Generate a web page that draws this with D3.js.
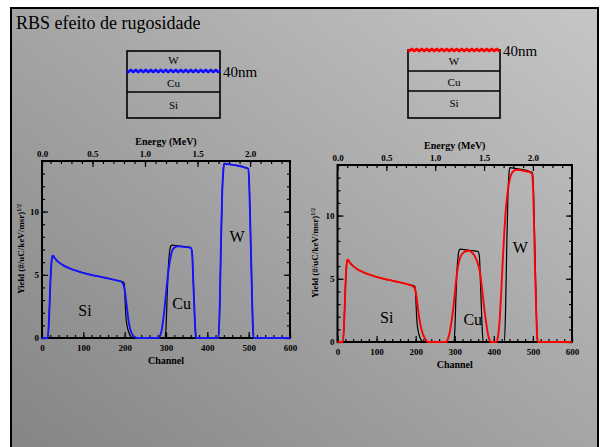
<!DOCTYPE html>
<html>
<head>
<meta charset="utf-8">
<script src="https://cdn.jsdelivr.net/npm/d3@7"></script>
<style>
  html, body { margin: 0; padding: 0; background: #ffffff; }
  svg { display: block; }
</style>
</head>
<body>
<script>
// RBS spectra: yield vs channel, smooth interface (black) vs rough interface (blue / red)
const channelTicks = [0, 100, 200, 300, 400, 500, 600];
const energyTicks = [0.0, 0.5, 1.0, 1.5, 2.0];
const yieldTicks = [0, 5, 10];

// Simulated spectrum with sharp interfaces (shared by both panels)
const smoothYield = [
  [0, 0], [14, 0], [17, 1.5], [20, 4.2], [23, 6.0], [25, 6.5], [27, 6.5], [30, 6.35],
  [40, 6.0], [50, 5.78], [60, 5.6], [75, 5.4], [100, 5.15], [120, 4.98], [140, 4.85],
  [160, 4.72], [180, 4.56], [196, 4.44], [199, 4.3], [201, 3.0], [203, 1.7], [206, 0.95],
  [210, 0.45], [214, 0.15], [218, 0.03], [222, 0],
  [298, 0], [300, 0.8], [303, 3.5], [306, 5.8], [309, 6.9], [312, 7.3], [315, 7.35],
  [330, 7.28], [345, 7.22], [360, 7.15], [363, 6.8], [366, 4.5], [369, 2.0], [371, 0.6], [373, 0],
  [427, 0], [430, 2.5], [433, 7.5], [436, 11.5], [439, 13.4], [441, 13.8], [450, 13.75],
  [470, 13.65], [490, 13.5], [499, 13.38], [502, 11.5], [505, 7.5], [508, 3.5], [510, 1.0],
  [512, 0], [600, 0]
];

// Rough W/Cu interface (40 nm)
const roughInterfaceYield = [
  [0, 0], [14, 0], [17, 1.5], [20, 4.2], [23, 6.0], [25, 6.5], [27, 6.5], [30, 6.35],
  [40, 6.0], [50, 5.78], [60, 5.6], [75, 5.4], [100, 5.15], [120, 4.98], [140, 4.85],
  [160, 4.72], [180, 4.56], [192, 4.45], [196, 4.3], [200, 3.8], [204, 2.8], [208, 1.7],
  [212, 0.9], [216, 0.45], [220, 0.2], [226, 0.05], [232, 0],
  [282, 0], [286, 0.2], [290, 0.7], [295, 1.9], [300, 3.5], [305, 5.1], [310, 6.2],
  [315, 6.9], [320, 7.15], [330, 7.25], [345, 7.2], [360, 7.12], [363, 6.8], [366, 4.5],
  [369, 2.0], [371, 0.6], [373, 0],
  [427, 0], [430, 2.5], [433, 7.5], [436, 11.5], [439, 13.4], [441, 13.8], [450, 13.75],
  [470, 13.65], [490, 13.5], [499, 13.38], [502, 11.5], [505, 7.5], [508, 3.5], [510, 1.0],
  [512, 0], [600, 0]
];

// Rough W surface (40 nm)
const roughSurfaceYield = [
  [0, 0], [14, 0], [17, 1.5], [20, 4.2], [23, 6.0], [25, 6.5], [27, 6.5], [30, 6.35],
  [40, 6.0], [50, 5.78], [60, 5.6], [75, 5.4], [100, 5.15], [120, 4.98], [140, 4.85],
  [160, 4.72], [180, 4.56], [192, 4.42], [197, 4.3], [202, 3.6], [206, 2.6], [210, 1.74],
  [214, 1.1], [219, 0.6], [224, 0.25], [228, 0.08], [232, 0],
  [279, 0], [283, 0.3], [288, 0.9], [292, 1.7], [296, 2.6], [300, 3.8], [304, 5.0],
  [308, 5.9], [313, 6.6], [320, 7.0], [330, 7.2], [337, 7.22], [345, 7.05], [352, 6.75],
  [358, 6.3], [364, 5.6], [368, 4.7], [372, 3.6], [376, 2.5], [381, 1.4], [385, 0.6],
  [389, 0.15], [392, 0],
  [407, 0], [411, 0.5], [415, 1.8], [419, 4.0], [423, 6.5], [427, 8.8], [431, 10.6],
  [436, 12.0], [441, 12.9], [447, 13.4], [455, 13.6], [462, 13.62], [475, 13.55],
  [490, 13.45], [497, 13.35], [500, 12.5], [503, 9.0], [506, 5.0], [509, 1.8], [511, 0.3],
  [513, 0], [600, 0]
];

// Element labels, anchored in data units (channel, yield)
const leftLabels = [
  { text: "Si", ch: 104, y: 2.2 },
  { text: "Cu", ch: 338, y: 2.75 },
  { text: "W", ch: 472, y: 8.05 }
];
const rightLabels = [
  { text: "Si", ch: 126, y: 1.9 },
  { text: "Cu", ch: 346, y: 1.75 },
  { text: "W", ch: 468, y: 7.45 }
];

const W = 600, H = 447;
const svg = d3.select("body").append("svg").attr("width", W).attr("height", H);

// Slide background: diagonal grey gradient inside a black frame
const defs = svg.append("defs");
const grad = defs.append("linearGradient").attr("id", "bg")
  .attr("x1", 0).attr("y1", 1).attr("x2", 1).attr("y2", 0);
grad.append("stop").attr("offset", "0%").attr("stop-color", "#848484");
grad.append("stop").attr("offset", "100%").attr("stop-color", "#c6c6c6");

svg.append("rect").attr("x", 11).attr("y", 8).attr("width", 587).attr("height", 450)
  .attr("fill", "url(#bg)").attr("stroke", "#000").attr("stroke-width", 2);

svg.append("text").attr("x", 16).attr("y", 29)
  .attr("font-family", "Liberation Serif, Times New Roman, serif")
  .attr("font-size", 18).attr("fill", "#000")
  .text("RBS efeito de rugosidade");

// Layer-stack sketches
const serif = "Liberation Serif, Times New Roman, serif";

function wavy(g, x0, x1, y, color) {
  const pts = d3.range(x0, x1 + 0.01, 0.5).map(x => [x, y + 1.1 * Math.sin((x - x0) / 5 * 2 * Math.PI)]);
  g.append("path").attr("d", d3.line()(pts)).attr("fill", "none")
    .attr("stroke", color).attr("stroke-width", 2.6);
}

function stack(cfg) {
  const g = svg.append("g");
  g.append("rect").attr("x", cfg.x0).attr("y", cfg.top).attr("width", cfg.x1 - cfg.x0)
    .attr("height", cfg.bottom - cfg.top).attr("fill", "none")
    .attr("stroke", "#000").attr("stroke-width", 1.6);
  cfg.lines.forEach(y => {
    g.append("line").attr("x1", cfg.x0).attr("x2", cfg.x1).attr("y1", y).attr("y2", y)
      .attr("stroke", "#000").attr("stroke-width", 1.6);
  });
  cfg.layers.forEach(l => {
    g.append("text").attr("x", (cfg.x0 + cfg.x1) / 2).attr("y", l.y)
      .attr("text-anchor", "middle").attr("dominant-baseline", "central")
      .attr("font-family", serif).attr("font-size", 11).text(l.name);
  });
  wavy(g, cfg.x0, cfg.x1, cfg.wave, cfg.color);
  g.append("text").attr("x", cfg.x1 + 3).attr("y", cfg.wave + 1)
    .attr("dominant-baseline", "central")
    .attr("font-family", serif).attr("font-size", 15).text("40nm");
}

stack({ x0: 127, x1: 220, top: 51, bottom: 118, lines: [92], wave: 71, color: "#1010ff",
  layers: [{ name: "W", y: 60 }, { name: "Cu", y: 83 }, { name: "Si", y: 105 }] });
stack({ x0: 408, x1: 500, top: 50, bottom: 118, lines: [71, 91], wave: 50, color: "#ff0000",
  layers: [{ name: "W", y: 61 }, { name: "Cu", y: 81.5 }, { name: "Si", y: 102.5 }] });

// Spectrum panels
function panel(cfg) {
  const g = svg.append("g");
  const x = d3.scaleLinear().domain([0, 600]).range([cfg.x0, cfg.x1]);
  const e = d3.scaleLinear().domain(cfg.energyDomain).range([cfg.x0, cfg.x1]).clamp(true);
  const y = d3.scaleLinear().domain([0, 14]).range([cfg.y1, cfg.y0]);
  const bold = sel => sel.selectAll("text").attr("font-family", serif)
    .attr("font-weight", "bold").attr("font-size", 9).attr("fill", "#000");
  const clean = sel => { sel.select(".domain").remove(); sel.selectAll("line").attr("stroke", "#000").attr("stroke-width", 1.2); };

  // minor ticks
  g.append("g").attr("transform", `translate(0,${cfg.y1})`)
    .call(d3.axisBottom(x).tickValues(d3.range(0, 601, 20)).tickSize(-3).tickSizeOuter(0).tickFormat(""))
    .call(clean);
  g.append("g").attr("transform", `translate(0,${cfg.y0})`)
    .call(d3.axisTop(e).tickValues(d3.range(0.1, cfg.energyDomain[1], 0.1)).tickSize(-3).tickSizeOuter(0).tickFormat(""))
    .call(clean);
  g.append("g").attr("transform", `translate(${cfg.x0},0)`)
    .call(d3.axisLeft(y).tickValues(d3.range(0, 15, 1)).tickSize(-3).tickSizeOuter(0).tickFormat(""))
    .call(clean);
  g.append("g").attr("transform", `translate(${cfg.x1},0)`)
    .call(d3.axisRight(y).tickValues(d3.range(0, 15, 1)).tickSize(-3).tickSizeOuter(0).tickFormat(""))
    .call(clean);

  // major ticks with labels
  g.append("g").attr("transform", `translate(0,${cfg.y1})`)
    .call(d3.axisBottom(x).tickValues(channelTicks).tickSize(-6).tickSizeOuter(0).tickPadding(7).tickFormat(d3.format("d")))
    .call(clean).call(bold);
  g.append("g").attr("transform", `translate(0,${cfg.y0})`)
    .call(d3.axisTop(e).tickValues(energyTicks).tickSize(-6).tickSizeOuter(0).tickPadding(4.5).tickFormat(d3.format(".1f")))
    .call(clean).call(bold);
  g.append("g").attr("transform", `translate(${cfg.x0},0)`)
    .call(d3.axisLeft(y).tickValues(yieldTicks).tickSize(-6).tickSizeOuter(0).tickPadding(3).tickFormat(d3.format("d")))
    .call(clean).call(bold);
  g.append("g").attr("transform", `translate(${cfg.x1},0)`)
    .call(d3.axisRight(y).tickValues(yieldTicks).tickSize(-6).tickSizeOuter(0).tickFormat(""))
    .call(clean);

  // plot frame
  g.append("rect").attr("x", cfg.x0).attr("y", cfg.y0).attr("width", cfg.x1 - cfg.x0)
    .attr("height", cfg.y1 - cfg.y0).attr("fill", "none").attr("stroke", "#000").attr("stroke-width", 2);

  // axis titles
  const cx = (cfg.x0 + cfg.x1) / 2;
  g.append("text").attr("x", cx).attr("y", cfg.y0 - 20).attr("text-anchor", "middle")
    .attr("dominant-baseline", "central").attr("font-family", serif).attr("font-weight", "bold")
    .attr("font-size", 10).text("Energy (MeV)");
  g.append("text").attr("x", cx).attr("y", cfg.y1 + 22).attr("text-anchor", "middle")
    .attr("dominant-baseline", "central").attr("font-family", serif).attr("font-weight", "bold")
    .attr("font-size", 10).text("Channel");
  const yl = g.append("text").attr("transform", `translate(${cfg.yLabelX},${cfg.yLabelY}) rotate(-90)`)
    .attr("text-anchor", "middle").attr("font-family", serif).attr("font-weight", "bold")
    .attr("font-size", 9);
  yl.append("tspan").text("Yield (#/uC/keV/msr)");
  yl.append("tspan").attr("baseline-shift", "super").attr("font-size", 6).text("1/2");

  // spectra
  const line = d3.line().x(d => x(d[0])).y(d => y(d[1])).curve(d3.curveMonotoneX);
  g.append("path").datum(smoothYield).attr("d", line).attr("fill", "none")
    .attr("stroke", "#000").attr("stroke-width", 1.2);
  g.append("path").datum(cfg.rough).attr("d", line).attr("fill", "none")
    .attr("stroke", cfg.color).attr("stroke-width", 1.9);

  // element labels
  g.selectAll("text.el").data(cfg.labels).join("text").attr("class", "el")
    .attr("x", d => x(d.ch)).attr("y", d => y(d.y))
    .attr("text-anchor", "middle").attr("dominant-baseline", "central")
    .attr("font-family", serif).attr("font-size", 16).text(d => d.text);
}

panel({ x0: 42, x1: 290, y0: 161, y1: 338, energyDomain: [0.02, 2.38],
  rough: roughInterfaceYield, color: "#1414ff", labels: leftLabels, yLabelX: 24, yLabelY: 249 });
panel({ x0: 337.5, x1: 572, y0: 165, y1: 342, energyDomain: [0.0, 2.4],
  rough: roughSurfaceYield, color: "#ff0000", labels: rightLabels, yLabelX: 318, yLabelY: 253 });
</script>
</body>
</html>
